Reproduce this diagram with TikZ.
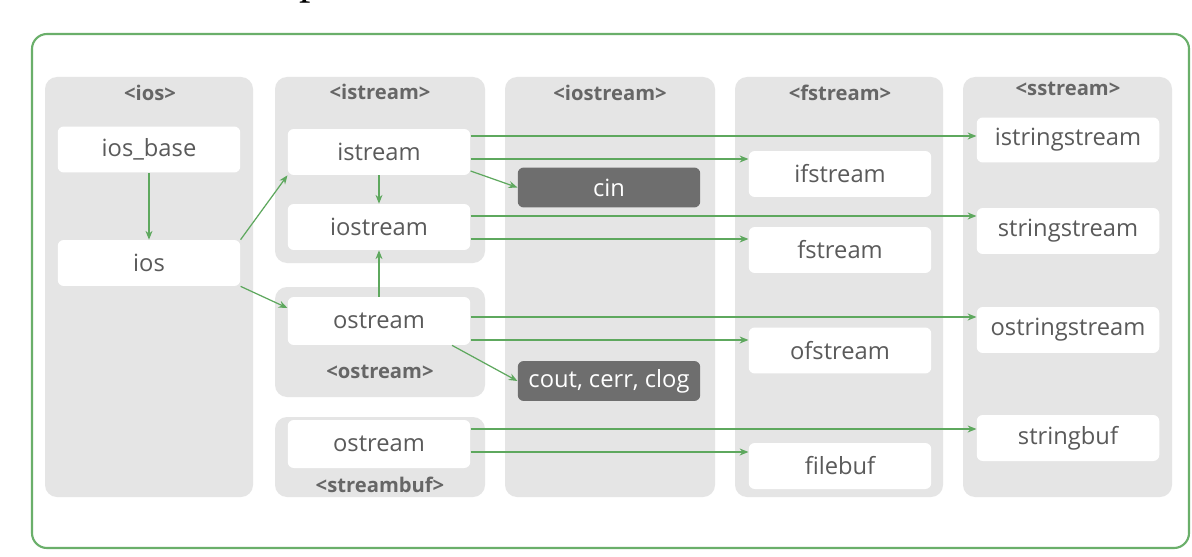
\documentclass[tikz,border=0pt]{standalone}
\usepackage{fontspec}
\setmainfont{Open Sans}
\newfontfamily\serifp{Liberation Serif}
\usetikzlibrary{arrows.meta}
\definecolor{frameg}{HTML}{6AAF6A}
\definecolor{arrg}{HTML}{5EA85E}
\definecolor{panelg}{HTML}{E5E5E5}
\definecolor{darkb}{HTML}{6E6E6E}
\definecolor{txtg}{HTML}{5A5A5A}
\definecolor{hdrg}{HTML}{666666}
\tikzset{
  panel/.style={fill=panelg, rounded corners=12*0.02cm},
  hdr/.style={text=hdrg, font=\fontsize{11.5}{14}\selectfont\bfseries, inner sep=0pt},
  wbox/.style={fill=white, rounded corners=6*0.02cm, minimum width=3.65cm, minimum height=0.92cm,
    inner sep=0pt, text=txtg, font=\fontsize{13.5}{16}\selectfont},
  dbox/.style={fill=darkb, rounded corners=6*0.02cm, minimum width=3.65cm, minimum height=0.8cm,
    inner sep=0pt, text=white, font=\fontsize{13.5}{16}\selectfont},
  arr/.style={draw=arrg, line width=0.7pt, -{Stealth[length=5pt,width=4pt]}}
}
\begin{document}
\begin{tikzpicture}[x=0.02cm,y=-0.02cm]
\useasboundingbox (0,0) rectangle (1192,557);
\fill[white] (0,0) rectangle (1192,557);
% cut-off title fragment
\node[anchor=base, inner sep=0pt, font=\serifp\fontsize{26}{30}\selectfont] (title) at (311,-6) {p};
% outer frame
\draw[frameg, line width=1.2pt, rounded corners=15*0.02cm] (32,34) rectangle (1189,548);
% panels
\path[panel] (45,77) rectangle (253,497);
\path[panel] (275,77) rectangle (485,263);
\path[panel] (275,287) rectangle (485,397);
\path[panel] (275,417) rectangle (485,497);
\path[panel] (505,77) rectangle (715,497);
\path[panel] (735,77) rectangle (943,497);
\path[panel] (963,77) rectangle (1172,497);
% headers
\node[hdr] (hios) at (150,93) {<ios>};
\node[hdr] (histream) at (380,92) {<istream>};
\node[hdr] (hiostream) at (610,93) {<iostream>};
\node[hdr] (hfstream) at (840,93) {<fstream>};
\node[hdr] (hsstream) at (1068,89) {<sstream>};
\node[hdr] (hostream) at (380,372) {<ostream>};
\node[hdr] (hstreambuf) at (380,485) {<streambuf>};
% white boxes
\node[wbox] (iosbase) at (149,149.5) {ios\_base};
\node[wbox] (ios) at (149,263) {ios};
\node[wbox] (istream) at (379,152) {istream};
\node[wbox] (iostream) at (379,227) {iostream};
\node[wbox, minimum height=0.96cm] (ostreamA) at (379,321) {ostream};
\node[wbox, minimum height=0.96cm] (ostreamB) at (379,444) {ostream};
\node[dbox] (cin) at (609,187.5) {cin};
\node[dbox] (cout) at (609,381) {cout, cerr, clog};
\node[wbox] (ifstream) at (840,174) {ifstream};
\node[wbox] (fstream) at (840,250) {fstream};
\node[wbox] (ofstream) at (840,350.5) {ofstream};
\node[wbox] (filebuf) at (840,466) {filebuf};
\node[wbox, minimum height=0.9cm] (istrs) at (1068,140) {istringstream};
\node[wbox] (strs) at (1068,231) {stringstream};
\node[wbox] (ostrs) at (1068,330) {ostringstream};
\node[wbox] (strbuf) at (1068,438) {stringbuf};
% connectors
\draw[arr] (iosbase) -- (ios);
\draw[arr] (ios.north east) -- (istream.south west);
\draw[arr] (ios.south east) -- (ostreamA.west |- 0,308);
\draw[arr] (istream) -- (iostream);
\draw[arr] (ostreamA) -- (iostream);
\draw[arr] (istream.east |- 0,136) -- (istrs.west |- 0,136);
\draw[arr] (istream.east |- 0,159) -- (ifstream.west |- 0,159);
\draw[arr] (istream.east |- 0,171) -- (cin.west);
\draw[arr] (iostream.east |- 0,216) -- (strs.west |- 0,216);
\draw[arr] (iostream.east |- 0,239) -- (fstream.west |- 0,239);
\draw[arr] (ostreamA.east |- 0,317) -- (ostrs.west |- 0,317);
\draw[arr] (ostreamA.east |- 0,340) -- (ofstream.west |- 0,340);
\draw[arr] (ostreamA.south -| 452,0) -- (cout.west);
\draw[arr] (ostreamB.east |- 0,429) -- (strbuf.west |- 0,429);
\draw[arr] (ostreamB.east |- 0,452) -- (filebuf.west |- 0,452);
\end{tikzpicture}
\end{document}
